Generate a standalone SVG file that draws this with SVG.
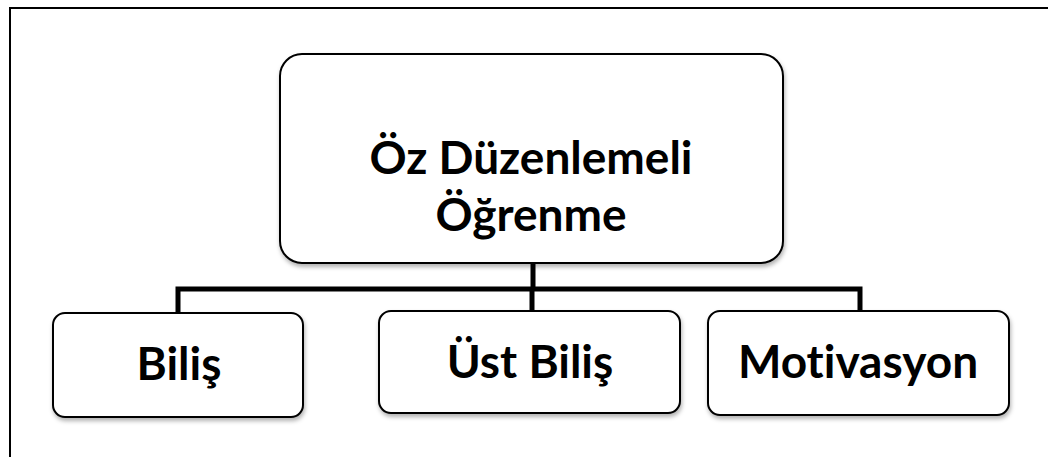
<svg xmlns="http://www.w3.org/2000/svg" width="1048" height="457" viewBox="0 0 1048 457">
<style>
.box{fill:#fff;stroke:#000;stroke-width:2;filter:url(#sh)}
.lbl{font-family:Lato,"Open Sans",sans-serif;font-weight:bold;fill:#000;text-anchor:middle;font-size:46px;font-variant-ligatures:none;font-feature-settings:"liga" 0,"dlig" 0}
.con{fill:none;stroke:#000;stroke-width:5}
</style>
<defs>
<filter id="sh" x="-10%" y="-10%" width="120%" height="130%">
<feDropShadow dx="1" dy="3" stdDeviation="2" flood-color="#000" flood-opacity="0.3"/>
</filter>
</defs>
<rect x="0" y="0" width="1048" height="457" fill="#fff"/>
<path d="M10 457V8H1048" fill="none" stroke="#000" stroke-width="2"/>
<g id="connectors">
<path class="con" d="M533 263V289M178 313V289H860V311M532 289V311"/>
</g>
<g id="root">
<rect class="box" x="280" y="54" width="503" height="209" rx="22"/>
<text class="lbl" x="531" y="174">Öz Düzenlemeli</text>
<text class="lbl" x="531" y="231">Öğrenme</text>
</g>
<g id="bilis">
<rect class="box" x="53" y="313" width="250" height="104" rx="12"/>
<text class="lbl" x="179" y="380">Biliş</text>
</g>
<g id="ustbilis">
<rect class="box" x="379" y="311" width="301" height="102" rx="12"/>
<text class="lbl" x="530" y="378">Üst Biliş</text>
</g>
<g id="motivasyon">
<rect class="box" x="708" y="311" width="301" height="104" rx="12"/>
<text class="lbl" x="858" y="378">Motivasyon</text>
</g>
</svg>
